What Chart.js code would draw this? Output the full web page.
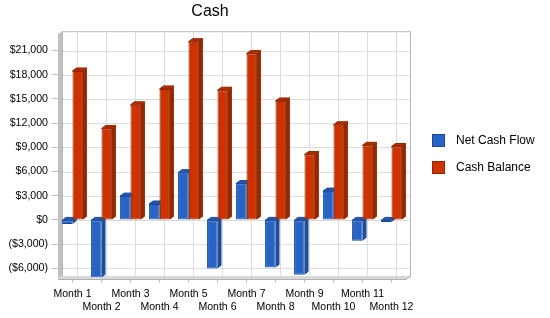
<!DOCTYPE html>
<html lang="en">
  <head>
    <meta charset="UTF-8" />
    <title>Cash</title>
    <style>
      body {
        margin: 0;
        background: #fff;
      }
    </style>
  </head>
  <body>
    <canvas id="cashChart" width="550" height="318"></canvas>

    <script src="https://cdn.jsdelivr.net/npm/chart.js"></script>
    <script>
      // values
      const months = [
        "Month 1", "Month 2", "Month 3", "Month 4", "Month 5", "Month 6",
        "Month 7", "Month 8", "Month 9", "Month 10", "Month 11", "Month 12",
      ];
      const netCashFlow = [-500, -7150, 2950, 1970, 5860, -6020, 4510, -5900, -6800, 3570, -2580, -250];
      const cashBalance = [18470, 11320, 14270, 16240, 22100, 16080, 20620, 14750, 8100, 11800, 9250, 9100];
      const yTicks = [-6000, -3000, 0, 3000, 6000, 9000, 12000, 15000, 18000, 21000];
      const yMin = -7080;
      const yMax = 23400;

      const DX = 4; // depth of the 3D look
      const DY = 3;

      function money(v) {
        const s = "$" + Math.abs(v).toLocaleString("en-US");
        return v < 0 ? "(" + s + ")" : s;
      }

      // back wall, floor, grid and bar sides
      const box3d = {
        id: "box3d",
        beforeDatasetsDraw(chart) {
          const { ctx, chartArea: a, scales } = chart;
          const backBottom = a.bottom - 1;
          const frontBottom = a.bottom + 2;
          ctx.save();

          ctx.strokeStyle = "#dcdcdc";
          ctx.lineWidth = 1;
          scales.y.ticks.forEach((t) => {
            const py = Math.round(scales.y.getPixelForValue(t.value)) + 0.5;
            ctx.beginPath();
            ctx.moveTo(a.left + DX, py);
            ctx.lineTo(a.right + DX, py);
            ctx.stroke();
          });
          months.forEach((m, i) => {
            const px = Math.round(scales.x.getPixelForValue(i)) + DX + 0.5;
            ctx.beginPath();
            ctx.moveTo(px, a.top);
            ctx.lineTo(px, backBottom);
            ctx.stroke();
          });

          ctx.strokeStyle = "#b8b8b8";
          ctx.strokeRect(a.left + DX + 0.5, a.top + 0.5, a.right - a.left, backBottom - a.top);

          // left wall
          ctx.fillStyle = "#c0c0c0";
          ctx.beginPath();
          ctx.moveTo(a.left, a.top + DY);
          ctx.lineTo(a.left + DX, a.top);
          ctx.lineTo(a.left + DX, backBottom);
          ctx.lineTo(a.left, frontBottom);
          ctx.closePath();
          ctx.fill();

          // floor
          ctx.fillStyle = "#d8d8d8";
          ctx.beginPath();
          ctx.moveTo(a.left, frontBottom);
          ctx.lineTo(a.left + DX, backBottom);
          ctx.lineTo(a.right + DX, backBottom);
          ctx.lineTo(a.right, frontBottom);
          ctx.closePath();
          ctx.fill();
          ctx.strokeStyle = "#b0b0b0";
          ctx.beginPath();
          ctx.moveTo(a.left, frontBottom + 0.5);
          ctx.lineTo(a.right, frontBottom + 0.5);
          ctx.lineTo(a.right + DX, backBottom + 0.5);
          ctx.stroke();

          // bar tops and sides
          ctx.beginPath();
          ctx.rect(a.left, a.top - DY, a.right - a.left + DX, a.bottom - a.top + DY);
          ctx.clip();
          chart.data.datasets.forEach((ds, di) => {
            const meta = chart.getDatasetMeta(di);
            meta.data.forEach((bar) => {
              const l = bar.x - bar.width / 2;
              const r = bar.x + bar.width / 2;
              const top = Math.min(bar.y, bar.base);
              const bot = Math.max(bar.y, bar.base);
              ctx.fillStyle = ds.sideColor;
              ctx.beginPath();
              ctx.moveTo(r, top);
              ctx.lineTo(r + DX, top - DY);
              ctx.lineTo(r + DX, bot - DY);
              ctx.lineTo(r, bot);
              ctx.closePath();
              ctx.fill();
              ctx.fillStyle = ds.capColor;
              ctx.beginPath();
              ctx.moveTo(l, top);
              ctx.lineTo(l + DX, top - DY);
              ctx.lineTo(r + DX, top - DY);
              ctx.lineTo(r, top);
              ctx.closePath();
              ctx.fill();
              ctx.strokeStyle = ds.borderColor;
              ctx.stroke();
            });
          });
          ctx.restore();
        },
      };

      // legend on the right
      const sideLegend = {
        id: "sideLegend",
        afterDraw(chart) {
          const { ctx, chartArea: a } = chart;
          ctx.save();
          chart.data.datasets.forEach((ds, i) => {
            const x = a.right + 26;
            const y = 134 + i * 27;
            ctx.fillStyle = ds.backgroundColor;
            ctx.fillRect(x, y, 13, 13);
            ctx.strokeStyle = ds.borderColor;
            ctx.strokeRect(x + 0.5, y + 0.5, 12, 12);
            ctx.fillStyle = "#000";
            ctx.font = '12px "Liberation Sans", Arial, sans-serif';
            ctx.textBaseline = "middle";
            ctx.fillText(ds.label, x + 24, y + 7);
          });
          ctx.restore();
        },
      };

      const ctx = document.getElementById("cashChart").getContext("2d");
      new Chart(ctx, {
        type: "bar",
        data: {
          labels: months,
          datasets: [
            {
              label: "Net Cash Flow",
              data: netCashFlow,
              backgroundColor: "#2864c6",
              borderColor: "#1b4a9a",
              sideColor: "#1e4d9c",
              capColor: "#2458b0",
              borderWidth: 1,
              borderSkipped: false,
            },
            {
              label: "Cash Balance",
              data: cashBalance,
              backgroundColor: "#cc3300",
              borderColor: "#8f2600",
              sideColor: "#962800",
              capColor: "#b02c00",
              borderWidth: 1,
              borderSkipped: false,
            },
          ],
        },
        options: {
          responsive: false,
          animation: false,
          categoryPercentage: 0.72,
          barPercentage: 1,
          layout: {
            padding: { left: 0, right: 130, top: 0, bottom: 0 },
          },
          plugins: {
            legend: { display: false },
            tooltip: { enabled: false },
            title: {
              display: true,
              text: "Cash",
              color: "#000",
              font: { family: '"Liberation Sans", Arial, sans-serif', size: 16, weight: "normal" },
              padding: { top: 2, bottom: 10 },
            },
          },
          scales: {
            x: {
              border: { display: false },
              grid: {
                offset: false,
                drawOnChartArea: false,
                drawTicks: true,
                tickLength: 6,
                tickColor: "#c0c0c0",
              },
              ticks: {
                autoSkip: false,
                maxRotation: 0,
                minRotation: 0,
                padding: 4,
                color: "#000",
                font: { family: '"Liberation Sans", Arial, sans-serif', size: 10.5, lineHeight: 1.27 },
                callback: function (v, i) {
                  const label = this.getLabelForValue(v);
                  return i % 2 === 0 ? [label, ""] : ["", label];
                },
              },
              afterFit(scale) {
                scale.height = 41;
              },
            },
            y: {
              min: yMin,
              max: yMax,
              border: { display: false },
              grid: {
                drawOnChartArea: false,
                drawTicks: true,
                tickLength: 6,
                tickColor: "#c0c0c0",
              },
              ticks: {
                autoSkip: false,
                padding: 4,
                color: "#000",
                font: { family: '"Liberation Sans", Arial, sans-serif', size: 10.6 },
                callback: (v) => money(v),
              },
              afterBuildTicks(scale) {
                scale.ticks = yTicks.map((v) => ({ value: v }));
              },
              afterFit(scale) {
                scale.width = 58;
              },
            },
            // empty strip between the plot and the legend
            gap: {
              type: "linear",
              position: "right",
              display: true,
              border: { display: false },
              grid: { display: false },
              ticks: { display: false },
              afterFit(scale) {
                scale.width = 14;
              },
            },
          },
        },
        plugins: [box3d, sideLegend],
      });
    </script>
  </body>
</html>
